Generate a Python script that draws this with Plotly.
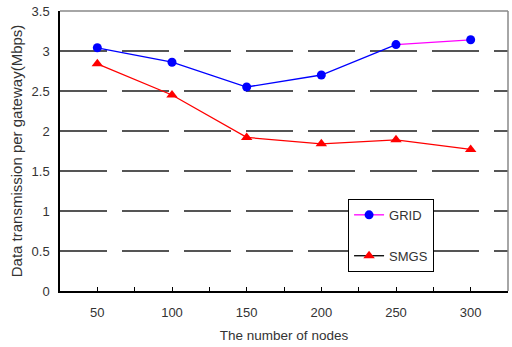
import plotly.graph_objects as go

nodes = [50, 100, 150, 200, 250, 300]
grid = [3.04, 2.86, 2.55, 2.70, 3.08, 3.14]
smgs = [2.84, 2.45, 1.92, 1.84, 1.89, 1.77]
y_ticks = [0, 0.5, 1, 1.5, 2, 2.5, 3, 3.5]
y_labels = ["0", "0.5", "1", "1.5", "2", "2.5", "3", "3.5"]

font = "Liberation Sans, Arial, sans-serif"
fig = go.Figure()

# GRID: blue line up to 250, magenta last segment
fig.add_trace(go.Scatter(x=nodes[:5], y=grid[:5], mode="lines", line=dict(color="#0000ff", width=1.3),
                         showlegend=False, hoverinfo="skip"))
fig.add_trace(go.Scatter(x=nodes[4:], y=grid[4:], mode="lines", line=dict(color="#ff00ff", width=1.3),
                         showlegend=False, hoverinfo="skip"))
fig.add_trace(go.Scatter(x=nodes, y=grid, mode="markers", marker=dict(color="#0000ff", size=9, symbol="circle"),
                         showlegend=False))
fig.add_trace(go.Scatter(x=nodes, y=smgs, mode="lines+markers", line=dict(color="#ff0000", width=1.3),
                         marker=dict(color="#ff0000", size=10, symbol="triangle-up"), showlegend=False))

# legend entries
fig.add_trace(go.Scatter(x=[None], y=[None], mode="lines+markers", name="GRID", legendgroup="a",
                         line=dict(color="#ff00ff", width=1.3), marker=dict(color="#0000ff", size=9)))
fig.add_trace(go.Scatter(x=[None], y=[None], mode="lines+markers", name="SMGS", legendgroup="b",
                         line=dict(color="#000000", width=1.3),
                         marker=dict(color="#ff0000", size=10, symbol="triangle-up")))

fig.update_layout(
    width=512, height=347,
    margin=dict(l=60, r=4, t=11, b=56),
    paper_bgcolor="white", plot_bgcolor="white",
    font=dict(family=font, size=13, color="#333333"),
    showlegend=True,
    legend=dict(x=0.643, y=0.329, xanchor="left", yanchor="top",
                bgcolor="white", bordercolor="#000000", borderwidth=1,
                font=dict(size=13, color="#333333"), tracegroupgap=21,
                traceorder="grouped", itemwidth=30),
    xaxis=dict(range=[25, 325], tickvals=nodes, ticktext=[str(n) for n in nodes],
               showgrid=False, zeroline=False, showline=True, linecolor="#000000", linewidth=1.5,
               ticks="inside", ticklen=4, tickcolor="#000000", ticklabelstandoff=9,
               minor=dict(tick0=25, dtick=50, ticks="inside", ticklen=4, tickcolor="#000000"),
               title=dict(text="The number of nodes", standoff=11, font=dict(size=13.5, color="#333333"))),
    yaxis=dict(range=[0, 3.5], tickvals=y_ticks, ticktext=y_labels,
               showgrid=True, gridcolor="#555555", gridwidth=2, griddash="47px,15px",
               zeroline=False, showline=True, linecolor="#000000", linewidth=1.5,
               ticks="", ticklabelstandoff=6,
               title=dict(text="Data transmission per gateway(Mbps)", standoff=5,
                          font=dict(size=15, color="#333333"))),
)
fig.add_shape(type="line", xref="paper", yref="paper", x0=0, x1=1, y0=1, y1=1,
              line=dict(color="#888888", width=1.5))
fig.add_shape(type="line", xref="paper", yref="paper", x0=1, x1=1, y0=0, y1=1,
              line=dict(color="#888888", width=1.5))

fig.write_html("out.html")
